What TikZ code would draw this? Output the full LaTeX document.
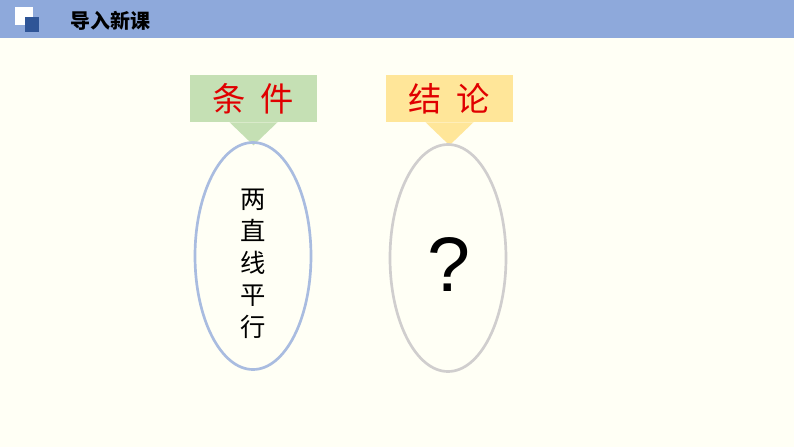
\documentclass[tikz,border=0pt]{standalone}
\usepackage{fontspec}
\newfontfamily\cjk{Noto Sans CJK SC}
\newfontfamily\askfont{Liberation Sans}
\definecolor{bgcream}{HTML}{FFFFF5}
\definecolor{barblue}{HTML}{8EA9DB}
\definecolor{iconblue}{HTML}{2F5597}
\definecolor{tagGreen}{HTML}{C5E0B4}
\definecolor{tagYellow}{HTML}{FFE699}
\definecolor{ringBlue}{HTML}{A9BCE0}
\definecolor{ringGray}{HTML}{D0CECE}
\definecolor{tagRed}{HTML}{E00000}
\tikzset{
  tag/.style={minimum width=127*0.75pt, minimum height=47*0.75pt, inner sep=0pt,
    font=\cjk\fontsize{25}{25}\selectfont, text=tagRed},
  ring/.style={ellipse, minimum width=116*0.75pt, minimum height=227*0.75pt, line width=2pt},
}
\usetikzlibrary{shapes.geometric}
\begin{document}
\begin{tikzpicture}[x=0.75pt,y=-0.75pt]
\fill[bgcream] (0,0) rectangle (794,447);
% title bar
\fill[barblue] (0,0) rectangle (794,38);
\fill[white] (15,7) rectangle (33,25);
\fill[iconblue] (25,17) rectangle (39,32);
\node[anchor=west, font=\cjk\bfseries\fontsize{15}{15}\selectfont] (title) at (66,21) {导入新课};
% left: condition
\node[tag, fill=tagGreen] (cond) at (253.5,98.5) {条\hspace{0.45em}件};
\fill[tagGreen] ([xshift=-24*0.75pt]cond.south) -- ([yshift=-23*0.75pt]cond.south)
  -- ([xshift=24*0.75pt]cond.south) -- cycle;
\node[ring, draw=ringBlue] (left) at (253,256) {};
\node[font=\cjk\fontsize{19}{24}\selectfont, align=center] (fact) at (253,264) {两\\直\\线\\平\\行};
% right: conclusion
\node[tag, fill=tagYellow] (concl) at (449.5,98.5) {结\hspace{0.45em}论};
\fill[tagYellow] ([xshift=-24*0.75pt]concl.south) -- ([yshift=-23*0.75pt]concl.south)
  -- ([xshift=24*0.75pt]concl.south) -- cycle;
\node[ring, draw=ringGray] (right) at (448,258) {};
\node[font=\askfont\fontsize{58}{58}\selectfont] (ask) at (449,264) {?};
\end{tikzpicture}
\end{document}
